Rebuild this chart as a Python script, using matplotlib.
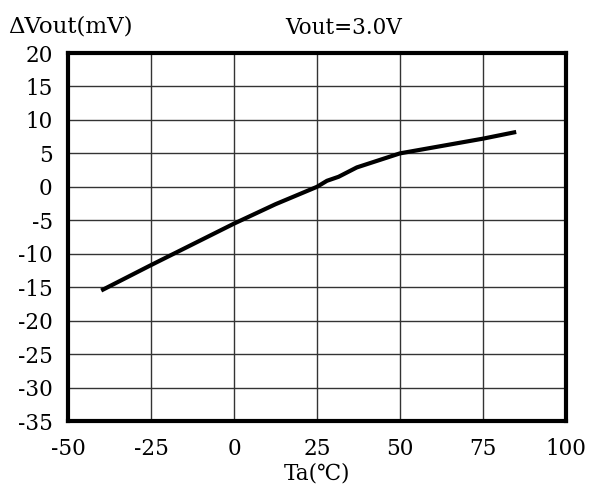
import numpy as np
import matplotlib
matplotlib.use('Agg')
from matplotlib import pyplot as plt

# data
ta = [-40, -25, -12.5, 0, 12.5, 25, 28, 31.5, 37, 50, 62.5, 75, 85]
dvout = [-15.5, -11.7, -8.6, -5.5, -2.6, 0.0, 0.9, 1.5, 2.9, 5.0, 6.1, 7.2, 8.2]

xticks = [-50, -25, 0, 25, 50, 75, 100]
yticks = [20, 15, 10, 5, 0, -5, -10, -15, -20, -25, -30, -35]

plt.rcParams['font.family'] = ['DejaVu Serif', 'DejaVu Sans']

fig = plt.figure(figsize=(5.94, 4.88), dpi=100)
ax = fig.add_axes([68/594, 1-421/488, (566-68)/594, (421-53)/488])

ax.plot(ta, dvout, color='black', linewidth=3, solid_capstyle='butt')

ax.set_xlim(-50, 100)
ax.set_ylim(-35, 20)
ax.set_xticks(xticks)
ax.set_yticks(yticks)
ax.set_xticklabels([str(v) for v in xticks])
ax.set_yticklabels([str(v) for v in yticks])
ax.tick_params(length=0, labelsize=15.5)
ax.tick_params(axis='x', pad=12)
ax.tick_params(axis='y', pad=11)
ax.grid(True, color='#333333', linewidth=1)
for s in ax.spines.values():
    s.set_linewidth(3)

ax.set_xlabel('Ta(℃)', fontsize=15.5, labelpad=2)
fig.text(8/594, 1-26/488, 'ΔVout(mV)', fontsize=16.5, va='center', ha='left')
fig.text(344/594, 1-28/488, 'Vout=3.0V', fontsize=15.5, va='center', ha='center')

plt.savefig('out.png', dpi=100)
